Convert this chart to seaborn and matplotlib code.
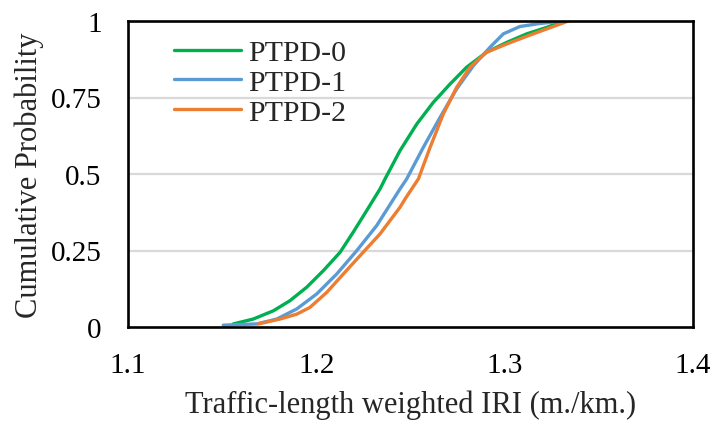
import matplotlib
matplotlib.use("Agg")
import matplotlib.pyplot as plt
import numpy as np
import pandas as pd
import seaborn as sns

# values
iri_ptpd0 = [1.1559, 1.1665, 1.1772, 1.186, 1.1949, 1.2037, 1.2126, 1.2196, 1.2267,
             1.2338, 1.2365, 1.2444, 1.2533, 1.2621, 1.271, 1.2798, 1.2904, 1.3011,
             1.3117, 1.3223, 1.3312]
cdf_ptpd0 = [0.010, 0.026, 0.053, 0.086, 0.130, 0.184, 0.244, 0.310, 0.380,
             0.451, 0.484, 0.576, 0.663, 0.734, 0.794, 0.849, 0.898, 0.930,
             0.958, 0.979, 1.0]

iri_ptpd1 = [1.1506, 1.1683, 1.179, 1.1896, 1.2002, 1.2108, 1.2214, 1.232, 1.2444,
             1.248, 1.2568, 1.2657, 1.2745, 1.2834, 1.2922, 1.2993, 1.3081, 1.3188,
             1.3312]
cdf_ptpd1 = [0.006, 0.010, 0.026, 0.059, 0.108, 0.173, 0.249, 0.331, 0.451,
             0.484, 0.587, 0.685, 0.778, 0.854, 0.914, 0.958, 0.982, 0.992,
             1.0]

iri_ptpd2 = [1.1692, 1.1807, 1.1896, 1.1966, 1.2055, 1.2143, 1.2232, 1.2338, 1.2444,
             1.2475, 1.2542, 1.2604, 1.2674, 1.2745, 1.2816, 1.2904, 1.3011, 1.3117,
             1.3223, 1.3338]
cdf_ptpd2 = [0.010, 0.026, 0.042, 0.064, 0.113, 0.173, 0.233, 0.304, 0.391,
             0.422, 0.484, 0.587, 0.696, 0.783, 0.849, 0.898, 0.925, 0.950,
             0.974, 1.0]

series_names = ['PTPD-0', 'PTPD-1', 'PTPD-2']
series_colors = ['#00B050', '#5B9BD5', '#ED7D31']

x_ticks = [1.1, 1.2, 1.3, 1.4]
y_ticks = [0, 0.25, 0.5, 0.75, 1]
y_tick_labels = ['0', '0.25', '0.5', '0.75', '1']

df = pd.concat([
    pd.DataFrame({'iri': iri_ptpd0, 'cdf': cdf_ptpd0, 'series': 'PTPD-0'}),
    pd.DataFrame({'iri': iri_ptpd1, 'cdf': cdf_ptpd1, 'series': 'PTPD-1'}),
    pd.DataFrame({'iri': iri_ptpd2, 'cdf': cdf_ptpd2, 'series': 'PTPD-2'}),
], ignore_index=True)

sns.set_style('white')
plt.rcParams['font.family'] = ['Liberation Serif', 'DejaVu Serif']

fig = plt.figure(figsize=(7.12, 4.27), dpi=100)
ax = fig.add_axes([128 / 712, 1 - 328 / 427, 565 / 712, 306 / 427])

for y in y_ticks[1:-1]:
    ax.axhline(y, color='#D9D9D9', lw=1.6, zorder=0)

sns.lineplot(data=df, x='iri', y='cdf', hue='series', hue_order=series_names,
             palette=series_colors, sort=False, estimator=None, linewidth=2.4,
             ax=ax)

ax.set_xlim(1.1, 1.4)
ax.set_ylim(0, 1)
ax.set_xticks(x_ticks)
ax.set_xticklabels([f'{t:.1f}' for t in x_ticks])
ax.set_yticks(y_ticks)
ax.set_yticklabels(y_tick_labels)
ax.tick_params(axis='both', length=0, labelsize=21, colors='black')
ax.tick_params(axis='y', pad=19)
ax.tick_params(axis='x', pad=18)

for side in ['left', 'right', 'top', 'bottom']:
    ax.spines[side].set_visible(True)
    ax.spines[side].set_color('black')
    ax.spines[side].set_linewidth(1.9)

ax.set_xlabel('Traffic-length weighted IRI (m./km.)', fontsize=22)
ax.set_ylabel('Cumulative Probability', fontsize=22)
ax.xaxis.set_label_coords(0.5, -0.205)
ax.yaxis.set_label_coords(-0.149, 0.5)

leg = ax.legend(loc='upper left', bbox_to_anchor=(0.06, 0.98), frameon=False,
                fontsize=21.5, handlelength=2.25, handletextpad=0.25,
                labelspacing=0.1, borderaxespad=0)
for line in leg.get_lines():
    line.set_linewidth(2.4)

fig.savefig('out.png', dpi=100)
